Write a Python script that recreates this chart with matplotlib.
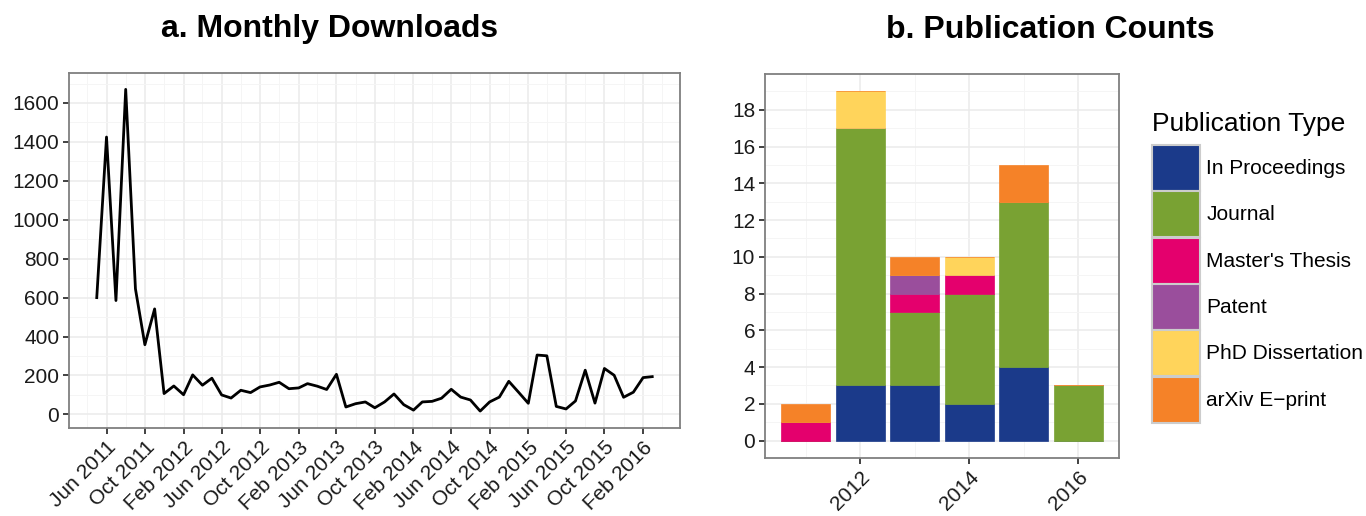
import numpy as np
import pandas as pd
import matplotlib
matplotlib.use("Agg")
import matplotlib.pyplot as plt
import matplotlib.dates as mdates
from matplotlib.patches import Patch

plt.rcParams['font.family'] = ['Liberation Sans', 'DejaVu Sans']

# a. monthly downloads, May 2011 .. Mar 2016
meses = pd.date_range('2011-05-01', '2016-03-01', freq='MS')
descargas = [600, 1425, 585, 1670, 645, 358, 542, 107, 146, 101, 203, 150,
             186, 100, 84, 124, 112, 141, 151, 165, 132, 136, 158, 145,
             128, 206, 38, 55, 64, 34, 64, 105, 50, 22, 64, 67,
             83, 129, 89, 74, 17, 64, 89, 170, 114, 57, 305, 301,
             41, 28, 69, 227, 58, 236, 201, 88, 114, 189, 194]

# b. publication counts per year
anios = [2011, 2012, 2013, 2014, 2015, 2016]
tipos = ['In Proceedings', 'Journal', "Master's Thesis", 'Patent',
         'PhD Dissertation', 'arXiv E\u2212print']
conteos = {
    'In Proceedings':   [0, 3, 3, 2, 4, 0],
    'Journal':          [0, 14, 4, 6, 9, 3],
    "Master's Thesis":  [1, 0, 1, 1, 0, 0],
    'Patent':           [0, 0, 1, 0, 0, 0],
    'PhD Dissertation': [0, 2, 0, 1, 0, 0],
    'arXiv E\u2212print': [1, 0, 1, 0, 2, 0],
}
colores = ['#1b3a8a', '#79a233', '#e4006d', '#9a4e9c', '#ffd45b', '#f58228']

fig = plt.figure(figsize=(13.66, 5.16), dpi=100)


def estilo_panel(ax):
    ax.set_facecolor('white')
    for s in ax.spines.values():
        s.set_color('#7f7f7f')
        s.set_linewidth(1.3)
    ax.grid(which='major', color='#ebebeb', linewidth=1.1)
    ax.grid(which='minor', color='#f5f5f5', linewidth=0.7)
    ax.set_axisbelow(True)
    ax.tick_params(which='major', length=4.5, width=1.3, color='#333333',
                   labelsize=15, labelcolor='#1a1a1a', pad=2.5)
    ax.tick_params(which='minor', length=0)


# ---- panel a ----
ax1 = fig.add_axes([0.0505, 0.1705, 0.4473, 0.688])
estilo_panel(ax1)
ax1.plot(meses, descargas, color='black', linewidth=2)
margen = (meses[-1] - meses[0]) * 0.05
ax1.set_xlim(meses[0] - margen, meses[-1] + margen)
ax1.set_ylim(-70, 1754)
ax1.set_yticks(np.arange(0, 1601, 200))
ax1.set_yticks(np.arange(100, 1701, 200), minor=True)
ticks_x = pd.date_range('2011-06-01', '2016-02-01', freq='4MS')
ax1.set_xticks(ticks_x)
ax1.set_xticks(pd.date_range('2011-04-01', '2016-04-01', freq='4MS'), minor=True)
ax1.xaxis.set_major_formatter(mdates.DateFormatter('%b %Y'))
plt.setp(ax1.get_xticklabels(), rotation=45, ha='right', rotation_mode='anchor')
ax1.set_title('a. Monthly Downloads', fontsize=23, fontweight='bold', pad=26,
              x=0.427)

# ---- panel b ----
ax2 = fig.add_axes([0.560, 0.1124, 0.2592, 0.7442])
estilo_panel(ax2)
base = np.zeros(len(anios))
for tipo, col in zip(tipos, colores):
    vals = np.array(conteos[tipo])
    ax2.bar(anios, vals, bottom=base, width=0.9, color=col,
            edgecolor=col, linewidth=0.5)
    base += vals
ax2.set_xlim(2010.255, 2016.745)
ax2.set_ylim(-0.95, 19.95)
ax2.set_yticks(np.arange(0, 19, 2))
ax2.set_yticks(np.arange(1, 20, 2), minor=True)
ax2.set_xticks([2012, 2014, 2016])
ax2.set_xticks([2011, 2013, 2015], minor=True)
plt.setp(ax2.get_xticklabels(), rotation=45, ha='right', rotation_mode='anchor')
ax2.set_title('b. Publication Counts', fontsize=23, fontweight='bold', pad=26,
              x=0.805)

manejadores = [Patch(facecolor=c, edgecolor='#cccccc', linewidth=1.5) for c in colores]
leg = ax2.legend(manejadores, tipos, loc='upper left', bbox_to_anchor=(1.093, 0.9),
                 frameon=False, fontsize=15, title='Publication Type',
                 title_fontsize=19, handlelength=2.3, handleheight=3.02,
                 labelspacing=0.02, handletextpad=0.3, borderaxespad=0,
                 borderpad=0)
leg._legend_box.align = 'left'
leg._legend_box.sep = 6

fig.savefig('out.png', dpi=100)
